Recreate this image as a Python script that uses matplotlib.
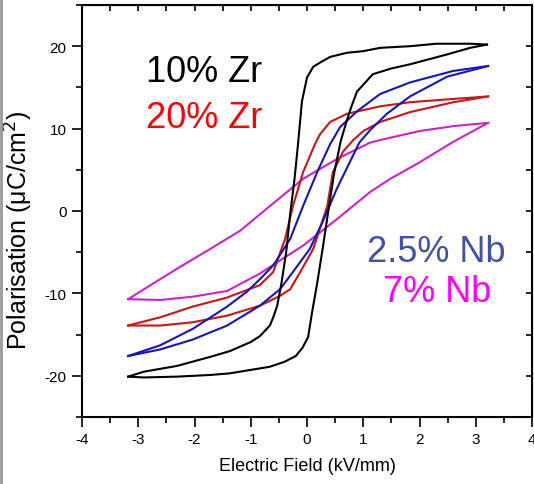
import matplotlib
matplotlib.use("Agg")
import matplotlib.pyplot as plt
from matplotlib.ticker import MultipleLocator
from matplotlib.lines import Line2D

plt.rcParams['font.family'] = ['Liberation Sans', 'DejaVu Sans']
plt.rcParams['axes.unicode_minus'] = False

# P-E hysteresis loops: each loop is a descending-field branch and an ascending-field branch
# 10% Zr
zr10_desc_E = [3.20, 2.90, 2.30, 1.83, 1.30, 1.00, 0.71, 0.41, 0.23, 0.11, 0.00, -0.09, -0.16, -0.22,
               -0.30, -0.37, -0.46, -0.53, -0.60, -0.66, -0.84, -1.00, -1.37, -1.72, -2.31, -2.90, -3.18]
zr10_desc_P = [20.2, 20.3, 20.3, 20.0, 19.8, 19.4, 19.2, 18.7, 18.0, 17.5, 16.2, 13.3, 8.1, 4.0,
               -0.4, -5.0, -9.0, -11.5, -12.9, -13.9, -15.2, -15.9, -17.0, -17.7, -18.8, -19.5, -20.1]
zr10_asc_E = [-3.18, -2.90, -2.31, -1.72, -1.37, -0.66, -0.40, -0.20, -0.08, 0.02, 0.09, 0.18, 0.28,
              0.37, 0.48, 0.60, 0.70, 0.78, 0.89, 1.17, 1.50, 1.83, 2.49, 2.90, 3.20]
zr10_asc_P = [-20.1, -20.2, -20.1, -19.9, -19.7, -18.9, -18.3, -17.6, -16.6, -15.3, -12.3, -8.8, -4.5,
              -0.4, 4.5, 8.5, 10.8, 12.5, 14.5, 16.6, 17.3, 17.8, 19.0, 19.8, 20.2]

# 20% Zr
zr20_desc_E = [3.22, 2.60, 1.83, 1.30, 0.71, 0.41, 0.23, 0.14, -0.07, -0.25, -0.39, -0.60, -0.84,
               -1.42, -2.03, -2.61, -3.18]
zr20_desc_P = [13.9, 13.6, 13.2, 12.7, 11.8, 10.8, 9.3, 8.1, 4.7, 0.6, -3.4, -7.4, -9.0,
               -10.5, -11.6, -12.9, -13.9]
zr20_asc_E = [-3.18, -2.61, -2.03, -1.42, -0.84, -0.48, -0.30, -0.12, 0.11, 0.36, 0.46, 0.64,
              0.82, 1.00, 1.30, 1.83, 2.60, 3.22]
zr20_asc_P = [-13.9, -13.9, -13.5, -12.7, -11.5, -10.3, -9.5, -7.4, -4.6, 0.6, 4.7, 7.2,
              8.6, 9.7, 10.8, 12.0, 13.2, 13.9]

# 2.5% Nb
nb25_desc_E = [3.22, 2.60, 1.83, 1.30, 0.89, 0.59, 0.41, 0.18, -0.07, -0.30, -0.60, -0.84, -1.07,
               -1.42, -2.03, -2.61, -3.18]
nb25_desc_P = [17.6, 17.0, 15.6, 14.2, 12.1, 10.2, 8.1, 4.7, 0.6, -3.4, -6.6, -8.3, -9.8,
               -11.6, -14.3, -16.3, -17.6]
nb25_asc_E = [-3.18, -2.61, -2.03, -1.42, -0.84, -0.48, -0.25, 0.05, 0.28, 0.53, 0.93, 1.12,
              1.42, 1.83, 2.49, 3.22]
nb25_asc_P = [-17.6, -16.8, -15.6, -13.9, -11.5, -9.5, -7.4, -4.6, -1.3, 2.7, 8.3, 9.8,
              11.8, 13.9, 16.3, 17.6]

# 7% Nb
nb7_desc_E = [3.22, 2.60, 2.00, 1.42, 1.12, 0.53, -0.07, -0.66, -1.19, -1.72, -2.31, -2.90, -3.18]
nb7_desc_P = [10.7, 10.3, 9.7, 8.8, 8.3, 6.3, 3.9, 0.6, -2.4, -4.6, -7.0, -9.5, -10.7]
nb7_asc_E = [-3.18, -2.61, -2.03, -1.42, -0.84, -0.66, -0.07, 0.53, 1.12, 1.48, 2.00, 2.60, 3.22]
nb7_asc_P = [-10.7, -10.8, -10.4, -9.7, -7.6, -6.8, -4.2, -1.0, 2.3, 3.9, 5.9, 8.4, 10.7]

loops = [
    (nb7_desc_E, nb7_desc_P, nb7_asc_E, nb7_asc_P, '#CC22CC'),
    (zr20_desc_E, zr20_desc_P, zr20_asc_E, zr20_asc_P, '#CC1515'),
    (nb25_desc_E, nb25_desc_P, nb25_asc_E, nb25_asc_P, '#1515C0'),
    (zr10_desc_E, zr10_desc_P, zr10_asc_E, zr10_asc_P, '#000000'),
]

labels = ['10% Zr', '20% Zr', '2.5% Nb', '7% Nb']
label_colors = ['#000000', '#FF0000', '#3F51A8', '#FF00FF']
label_xy = [(-1.82, 15.8), (-1.82, 10.2), (2.29, -6.1), (2.31, -10.9)]

fig = plt.figure(figsize=(5.34, 4.85), dpi=100)
ax = fig.add_axes([82 / 534, 67 / 485, 450 / 534, 412 / 485])

for dE, dP, aE, aP, col in loops:
    ax.plot(dE, dP, color=col, lw=1.5, solid_joinstyle='round')
    ax.plot(aE, aP, color=col, lw=1.5, solid_joinstyle='round')

for txt, col, (x, y) in zip(labels, label_colors, label_xy):
    ax.text(x, y, txt, color=col, fontsize=26, ha='center', va='baseline')

ax.set_xlim(-4, 4)
ax.set_ylim(-25, 25)
ax.xaxis.set_major_locator(MultipleLocator(1))
ax.xaxis.set_minor_locator(MultipleLocator(0.5))
ax.yaxis.set_major_locator(MultipleLocator(10))
ax.yaxis.set_minor_locator(MultipleLocator(5))
ax.tick_params(which='major', direction='out', length=7, width=1.2, labelsize=11, pad=4)
ax.tick_params(which='minor', direction='out', length=4, width=1.2)
for sp in ax.spines.values():
    sp.set_linewidth(1.5)

top = ax.secondary_xaxis('top')
top.xaxis.set_major_locator(MultipleLocator(0.5))
top.tick_params(direction='in', length=4, width=1.2, labeltop=False)
right = ax.secondary_yaxis('right')
right.yaxis.set_major_locator(MultipleLocator(5))
right.tick_params(direction='in', length=4, width=1.2, labelright=False)

ax.set_xlabel('Electric Field (kV/mm)', fontsize=13)
ax.xaxis.set_label_coords(0.5, -0.097)
ax.set_ylabel('Polarisation (\u03bcC/cm$^2$)', fontsize=18)
ax.yaxis.set_label_coords(-0.105, 0.455)

fig.add_artist(Line2D([0.002, 0.002], [0, 1], transform=fig.transFigure, color='#999999', lw=2))

fig.savefig('out.png', dpi=100)
